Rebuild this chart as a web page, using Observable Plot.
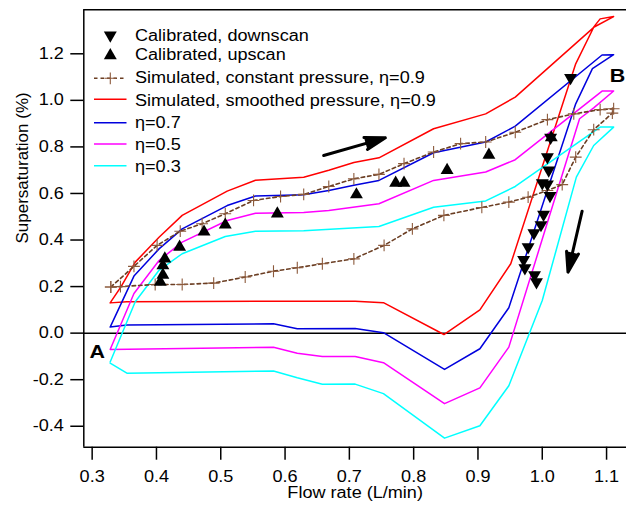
<!DOCTYPE html>
<html><head><meta charset="utf-8">
<script src="https://cdn.jsdelivr.net/npm/d3@7"></script>
<script src="https://cdn.jsdelivr.net/npm/@observablehq/plot@0.6"></script>
<style>
body{margin:0;background:#fff;font-family:'Liberation Sans',Arial,sans-serif}
#wrap{position:relative;width:626px;height:512px;overflow:hidden}
#wrap svg.overlay{position:absolute;left:0;top:0;pointer-events:none}
</style></head><body><div id="wrap"></div>
<script>
// ---- tick values ----
const flowTicks = [0.3, 0.4, 0.5, 0.6, 0.7, 0.8, 0.9, 1.0, 1.1];
const ssTicks = [-0.4, -0.2, 0.0, 0.2, 0.4, 0.6, 0.8, 1.0, 1.2];

// ---- Simulated, smoothed pressure, eta=0.9 (closed loop) ----
const smoothX09 = [0.328,0.345,0.367,0.404,0.44,0.51,0.554,0.629,0.668,0.707,0.746,0.831,0.912,0.958,1.078,1.09,1.111,1.08,1.052,0.951,0.903,0.847,0.753,0.709,0.582,0.354,0.328];
const smoothY09 = [0.13,0.2,0.305,0.412,0.506,0.61,0.657,0.67,0.70,0.733,0.753,0.878,0.942,1.014,1.308,1.35,1.36,1.314,1.157,0.298,0.1,-0.006,0.131,0.137,0.137,0.135,0.13];
// ---- eta=0.7 ----
const etaX07 = [0.328,0.365,0.404,0.44,0.51,0.554,0.629,0.668,0.707,0.746,0.831,0.912,0.958,1.093,1.111,1.078,1.052,0.948,0.903,0.848,0.753,0.709,0.619,0.582,0.354,0.328];
const etaY07 = [0.026,0.245,0.362,0.448,0.548,0.589,0.594,0.613,0.635,0.656,0.775,0.821,0.889,1.195,1.196,1.136,0.985,0.109,-0.067,-0.156,0.002,0.02,0.019,0.04,0.035,0.026];
// ---- eta=0.5 ----
const etaX05 = [0.328,0.365,0.404,0.44,0.51,0.554,0.629,0.668,0.746,0.831,0.912,0.958,1.093,1.111,1.08,1.058,0.948,0.903,0.848,0.753,0.709,0.658,0.619,0.582,0.328];
const etaY05 = [-0.07,0.17,0.312,0.391,0.484,0.515,0.518,0.527,0.556,0.656,0.692,0.745,1.04,1.04,0.968,0.921,-0.06,-0.235,-0.303,-0.127,-0.1,-0.1,-0.086,-0.061,-0.07];
// ---- eta=0.3 ----
const etaX03 = [0.328,0.367,0.404,0.44,0.507,0.554,0.629,0.746,0.831,0.912,0.958,1.09,1.111,1.08,1.053,1.0,0.948,0.903,0.848,0.753,0.709,0.658,0.619,0.582,0.354,0.328];
const etaY03 = [-0.124,0.135,0.27,0.341,0.415,0.438,0.44,0.458,0.541,0.568,0.63,0.885,0.885,0.806,0.67,0.14,-0.226,-0.398,-0.451,-0.26,-0.219,-0.22,-0.192,-0.163,-0.172,-0.129];
// ---- Simulated, constant pressure, eta=0.9 ----
const constX = [0.329,0.365,0.401,0.437,0.471,0.507,0.551,0.593,0.629,0.668,0.707,0.746,0.785,0.831,0.873,0.912,0.958,1.008,1.049,1.09,1.111,1.109,1.08,1.052,1.031,1.008,0.978,0.948,0.906,0.847,0.798,0.754,0.707,0.658,0.619,0.582,0.538,0.489,0.44,0.398,0.344,0.329];
const constY = [0.198,0.287,0.377,0.438,0.47,0.513,0.57,0.587,0.596,0.63,0.663,0.682,0.728,0.778,0.814,0.821,0.863,0.917,0.942,0.96,0.964,0.945,0.874,0.756,0.638,0.613,0.584,0.563,0.54,0.506,0.448,0.377,0.319,0.298,0.281,0.266,0.241,0.215,0.209,0.209,0.2,0.198];
// ---- Calibrated ----
const downX = [1.044,1.013,1.008,1.01,1.0,1.008,1.012,1.002,0.998,0.987,0.978,0.971,0.973,0.988,0.991];
const downY = [1.097,0.84,0.757,0.70,0.645,0.64,0.59,0.51,0.465,0.43,0.37,0.315,0.28,0.25,0.22];
const upX = [0.406,0.41,0.41,0.413,0.436,0.474,0.507,0.588,0.711,0.772,0.785,0.852,0.917,1.014];
const upY = [0.22,0.25,0.29,0.32,0.37,0.435,0.465,0.513,0.595,0.645,0.645,0.70,0.765,0.84];
// ---- annotations ----
const arrowX1 = [0.66, 1.062], arrowY1 = [0.763, 0.524];
const arrowX2 = [0.756, 1.040], arrowY2 = [0.839, 0.262];
const pointNames = ["A", "B"], pointX = [0.308, 1.117], pointY = [-0.082, 1.107];
// ---- legend ----
const legendNames = ["Calibrated, downscan","Calibrated, upscan","Simulated, constant pressure, \u03B7=0.9","Simulated, smoothed pressure, \u03B7=0.9","\u03B7=0.7","\u03B7=0.5","\u03B7=0.3"];
const legendKinds = ["down","up","const","line","line","line","line"];
const COL = {red:"#ff0000", blue:"#0000dd", magenta:"#ff00ff", cyan:"#00ffff", brown:"#6b3e23", plus:"#8c5a3c"};
const legendColors = ["black","black",COL.brown,COL.red,COL.blue,COL.magenta,COL.cyan];

const xDomain = [0.287, 1.131], yDomain = [-0.49, 1.389];
const pts = (X, Y) => X.map((x, i) => ({x, y: Y[i]}));
const FONT = "'Liberation Sans', Arial, sans-serif";
const PLUS_R = 3.9, TRI_R = 4.8, STRETCH = 1.13, FS = 16;

const chart = Plot.plot({
  width: 626, height: 512,
  marginLeft: 83.3, marginTop: 9.3, marginBottom: 65.3, marginRight: 0,
  style: {fontFamily: FONT, fontSize: FS + "px", color: "black", background: "white"},
  x: {domain: xDomain},
  y: {domain: yDomain},
  marks: [
    Plot.ruleY([0], {stroke: "black", strokeWidth: 1.5}),
    Plot.line(pts(smoothX09, smoothY09), {x: "x", y: "y", stroke: COL.red, strokeWidth: 1.5}),
    Plot.line(pts(etaX07, etaY07), {x: "x", y: "y", stroke: COL.blue, strokeWidth: 1.5}),
    Plot.line(pts(etaX05, etaY05), {x: "x", y: "y", stroke: COL.magenta, strokeWidth: 1.5}),
    Plot.line(pts(etaX03, etaY03), {x: "x", y: "y", stroke: COL.cyan, strokeWidth: 1.5}),
    Plot.line(pts(constX, constY), {x: "x", y: "y", stroke: COL.brown, strokeWidth: 1.6, strokeDasharray: "3.5,3"}),
    Plot.dot(pts(constX, constY), {x: "x", y: "y", symbol: "plus", r: PLUS_R, fill: "none", stroke: COL.plus, strokeWidth: 1.1}),
    Plot.dot(pts(upX, upY), {x: "x", y: "y", symbol: "triangle", r: TRI_R, fill: "black", stroke: "none"}),
    Plot.dot(pts(downX, downY), {x: "x", y: "y", symbol: "triangle", r: TRI_R, rotate: 180, fill: "black", stroke: "none"}),
    Plot.arrow(arrowX1.map((d, i) => i), {x1: i => arrowX1[i], y1: i => arrowY1[i], x2: i => arrowX2[i], y2: i => arrowY2[i],
      stroke: "black", fill: "black", strokeWidth: 3, headLength: 16, headAngle: 34}),
    Plot.text(pointNames, {x: (d, i) => pointX[i], y: (d, i) => pointY[i], text: d => d, fontSize: 19, fontWeight: "bold", fill: "black"}),
    Plot.ruleX([xDomain[0]], {stroke: "black", strokeWidth: 1.5}),
    Plot.ruleY([yDomain[1]], {stroke: "black", strokeWidth: 1.5}),
    Plot.ruleY([yDomain[0]], {stroke: "black", strokeWidth: 1.5}),
    Plot.axisX({ticks: flowTicks, tickSize: 13, tickPadding: 10, tickFormat: d => d.toFixed(1), label: null, strokeWidth: 1.5}),
    Plot.axisY({ticks: ssTicks, tickSize: 13, tickPadding: 7, tickFormat: d => d.toFixed(1), label: null, strokeWidth: 1.5}),
    Plot.text(["Flow rate (L/min)"], {frameAnchor: "bottom", dy: 51, text: d => d, fontSize: FS}),
    Plot.text(["Supersaturation (%)"], {frameAnchor: "left", dx: -61, dy: 15, rotate: -90, text: d => d, fontSize: 17})
  ]
});
const wrap = document.getElementById("wrap");
wrap.appendChild(chart);

// widen horizontal texts to match the reference's glyph proportions
d3.select(chart).selectAll("text").each(function() {
  const t = d3.select(this);
  const tr = t.attr("transform") || "";
  if (tr.includes("rotate")) return;
  const x = parseFloat(t.attr("x")) || 0;
  t.attr("transform", `${tr} translate(${x},0) scale(${STRETCH},1) translate(${-x},0)`);
});

// ---- legend overlay ----
const ov = d3.select(wrap).append("svg").attr("class", "overlay").attr("width", 626).attr("height", 512);
const rowMid = [35.2, 55.4, 78.3, 99.3, 122.7, 144, 165.7];
const rowBase = [40.7, 60, 82.7, 106, 128.3, 150, 171.7];
const tri = d3.symbol(d3.symbolTriangle, TRI_R * TRI_R * Math.PI)();
const plus = d3.symbol(d3.symbolPlus, PLUS_R * PLUS_R * Math.PI)();
legendNames.forEach((name, i) => {
  const kind = legendKinds[i], c = legendColors[i], y = rowMid[i];
  if (kind === "down" || kind === "up") {
    ov.append("path").attr("d", tri).attr("fill", "black")
      .attr("transform", `translate(110.3,${y})` + (kind === "down" ? " rotate(180)" : ""));
  } else {
    ov.append("line").attr("x1", 94).attr("x2", 126.5).attr("y1", y).attr("y2", y)
      .attr("stroke", c).attr("stroke-width", kind === "const" ? 1.6 : 1.5)
      .attr("stroke-dasharray", kind === "const" ? "3.5,3" : null);
    if (kind === "const") ov.append("path").attr("d", plus).attr("fill", "none").attr("stroke", COL.plus).attr("stroke-width", 1.1)
      .attr("transform", `translate(110.3,${y})`);
  }
  ov.append("text").attr("transform", `translate(135,${rowBase[i]}) scale(${STRETCH},1)`)
    .attr("font-family", FONT).attr("font-size", FS).attr("fill", "black").text(name);
});
</script></body></html>
